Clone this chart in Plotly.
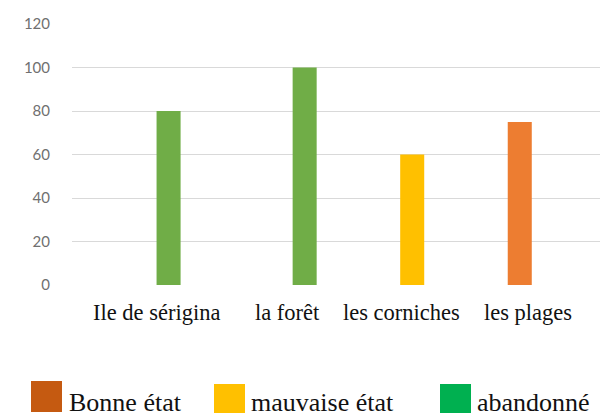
import plotly.graph_objects as go

# ---- data ----
categories = ["Ile de sérigina", "la forêt", "les corniches", "les plages"]
series_names = ["Bonne état", "mauvaise état", "abandonné"]
bonne_etat = [None, None, None, 75]
mauvaise_etat = [None, None, 60, None]
abandonne = [80, 100, None, None]
y_ticks = [0, 20, 40, 60, 80, 100, 120]

# ---- styles ----
W, H = 612, 414
ML, MR, MT, MB = 72, 12, 24, 129
PW, PH = W - ML - MR, H - MT - MB
bar_colors = ["#ED7D31", "#FFC000", "#70AD47"]
legend_colors = ["#C55A11", "#FFC000", "#00B050"]


def px_x(X):
    return (X - ML) / PW


def px_y(Y):
    return (H - MB - Y) / PH


fig = go.Figure()
for name, vals, col in zip(series_names, [bonne_etat, mauvaise_etat, abandonne], bar_colors):
    fig.add_trace(go.Bar(x=categories, y=vals, name=name, marker_color=col,
                         marker_line_width=0, showlegend=False))

# category labels (serif, placed under the axis)
label_centers = [156, 287, 401, 528]
for cat, xc in zip(categories, label_centers):
    fig.add_annotation(text=cat, x=px_x(xc), y=px_y(312), xref="paper", yref="paper",
                       xanchor="center", yanchor="middle", showarrow=False,
                       font=dict(family="Liberation Serif", size=22.5, color="#111111"))

# custom legend
legend_boxes = [(31, 62, 381, 412), (214, 245, 384, 413), (440, 471, 384, 413)]
legend_text_x = [67, 249, 475]
for name, col, (x0, x1, y0, y1), tx in zip(series_names, legend_colors, legend_boxes, legend_text_x):
    fig.add_shape(type="rect", xref="paper", yref="paper",
                  x0=px_x(x0), x1=px_x(x1), y0=px_y(y0), y1=px_y(y1),
                  fillcolor=col, line_width=0)
    fig.add_annotation(text=name, x=px_x(tx), y=px_y(402), xref="paper", yref="paper",
                       xanchor="left", yanchor="middle", showarrow=False,
                       font=dict(family="Liberation Serif", size=26, color="#111111"))

fig.update_layout(
    width=W, height=H,
    margin=dict(l=ML, r=MR, t=MT, b=MB, pad=0),
    paper_bgcolor="white", plot_bgcolor="white",
    barmode="group", bargap=0.371, bargroupgap=0.158,
    xaxis=dict(type="category", range=[-0.5, 3.38], showticklabels=False,
               showgrid=False, zeroline=False, showline=False, ticks=""),
    yaxis=dict(range=[0, 120], tickvals=y_ticks, showgrid=True, gridcolor="#D9D9D9",
               gridwidth=1, zeroline=False, showline=False,
               ticks="outside", ticklen=18, tickcolor="rgba(0,0,0,0)",
               tickfont=dict(family="Lato", size=15, color="#707070")),
)

fig.write_html("out.html", config={"displayModeBar": False},
               post_script="document.body.style.margin='0';document.body.style.overflow='hidden';")
